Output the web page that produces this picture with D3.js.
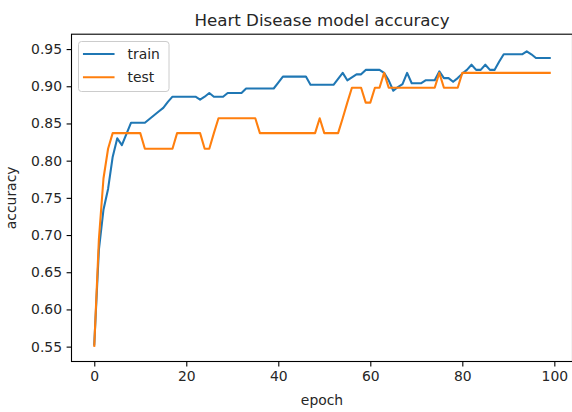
<!DOCTYPE html>
<html>
<head>
<meta charset="utf-8">
<script src="https://cdn.jsdelivr.net/npm/d3@7"></script>
<style>
  body { margin: 0; background: #fff; }
  svg text { font-family: "DejaVu Sans", sans-serif; fill: #262626; }
</style>
</head>
<body>
<div id="svg-area"></div>
<script>
var svgWidth = 572;
var svgHeight = 412;

// accuracy per epoch
var trainAcc = [0.553, 0.680, 0.734, 0.762, 0.805, 0.830, 0.821, 0.836, 0.851, 0.851,
  0.851, 0.851, 0.856, 0.861, 0.866, 0.871, 0.879, 0.886, 0.886, 0.886,
  0.886, 0.886, 0.886, 0.882, 0.886, 0.891, 0.886, 0.886, 0.886, 0.891,
  0.891, 0.891, 0.891, 0.897, 0.897, 0.897, 0.897, 0.897, 0.897, 0.897,
  0.905, 0.913, 0.913, 0.913, 0.913, 0.913, 0.913, 0.902, 0.902, 0.902,
  0.902, 0.902, 0.902, 0.910, 0.918, 0.908, 0.912, 0.916, 0.916, 0.922,
  0.922, 0.922, 0.922, 0.918, 0.908, 0.894, 0.899, 0.903, 0.918, 0.904,
  0.904, 0.904, 0.908, 0.908, 0.908, 0.920, 0.911, 0.911, 0.906, 0.911,
  0.917, 0.922, 0.929, 0.922, 0.922, 0.929, 0.922, 0.922, 0.933, 0.943,
  0.943, 0.943, 0.943, 0.943, 0.947, 0.943, 0.938, 0.938, 0.938, 0.938];

var testAcc = [0.551, 0.694, 0.776, 0.816, 0.837, 0.837, 0.837, 0.837, 0.837, 0.837,
  0.837, 0.816, 0.816, 0.816, 0.816, 0.816, 0.816, 0.816, 0.837, 0.837,
  0.837, 0.837, 0.837, 0.837, 0.816, 0.816, 0.837, 0.857, 0.857, 0.857,
  0.857, 0.857, 0.857, 0.857, 0.857, 0.857, 0.837, 0.837, 0.837, 0.837,
  0.837, 0.837, 0.837, 0.837, 0.837, 0.837, 0.837, 0.837, 0.837, 0.857,
  0.837, 0.837, 0.837, 0.837, 0.857, 0.878, 0.898, 0.898, 0.898, 0.878,
  0.878, 0.898, 0.898, 0.918, 0.898, 0.898, 0.898, 0.898, 0.898, 0.898,
  0.898, 0.898, 0.898, 0.898, 0.898, 0.918, 0.898, 0.898, 0.898, 0.898,
  0.918, 0.918, 0.918, 0.918, 0.918, 0.918, 0.918, 0.918, 0.918, 0.918,
  0.918, 0.918, 0.918, 0.918, 0.918, 0.918, 0.918, 0.918, 0.918, 0.918];

var xTicks = [0, 20, 40, 60, 80, 100];
var yTicks = [0.55, 0.60, 0.65, 0.70, 0.75, 0.80, 0.85, 0.90, 0.95];
var seriesNames = ["train", "test"];
var seriesColors = ["#1f77b4", "#ff7f0e"];

var plotLeft = 71.5, plotRight = 572.5, plotTop = 34.2, plotBottom = 361.5;

var svg = d3.select("#svg-area")
  .append("svg")
  .attr("width", svgWidth)
  .attr("height", svgHeight);

var xScale = d3.scaleLinear().domain([-4.95, 103.95]).range([plotLeft, plotRight]);
var yScale = d3.scaleLinear().domain([0.53, 0.97]).range([plotBottom, plotTop]);

// axes
var xAxis = d3.axisBottom(xScale).tickValues(xTicks).tickSize(4.9).tickPadding(4.6).tickSizeOuter(0);
var yAxis = d3.axisLeft(yScale).tickValues(yTicks).tickSize(4.9).tickPadding(4.6)
  .tickFormat(d3.format(".2f")).tickSizeOuter(0);

var gx = svg.append("g").attr("transform", "translate(0," + plotBottom + ")").call(xAxis);
var gy = svg.append("g").attr("transform", "translate(" + plotLeft + ",0)").call(yAxis);
[gx, gy].forEach(function(g) {
  g.select(".domain").remove();
  g.selectAll(".tick line").attr("stroke", "#000").attr("stroke-width", 1.1);
  g.selectAll(".tick text").style("font-size", "13.9px").attr("fill", "#262626");
});

// lines
var lineGenerator = d3.line()
  .x(function(d, i) { return xScale(i); })
  .y(function(d) { return yScale(d); });

[trainAcc, testAcc].forEach(function(series, k) {
  svg.append("path")
    .datum(series)
    .attr("d", lineGenerator)
    .attr("fill", "none")
    .attr("stroke", seriesColors[k])
    .attr("stroke-width", 2.08)
    .attr("stroke-linejoin", "round")
    .attr("stroke-linecap", "square");
});

// frame
svg.append("rect")
  .attr("x", plotLeft).attr("y", plotTop)
  .attr("width", plotRight - plotLeft).attr("height", plotBottom - plotTop)
  .attr("fill", "none").attr("stroke", "#000").attr("stroke-width", 1.1);

// title and labels
svg.append("text")
  .attr("x", (plotLeft + plotRight) / 2).attr("y", 26)
  .attr("text-anchor", "middle").style("font-size", "16.7px")
  .text("Heart Disease model accuracy");

svg.append("text")
  .attr("x", (plotLeft + plotRight) / 2).attr("y", 405)
  .attr("text-anchor", "middle").style("font-size", "13.9px")
  .text("epoch");

svg.append("text")
  .attr("transform", "translate(16," + (plotTop + plotBottom) / 2 + ") rotate(-90)")
  .attr("text-anchor", "middle").style("font-size", "13.9px")
  .text("accuracy");

// legend
var legend = svg.append("g");
legend.append("rect")
  .attr("x", 78.5).attr("y", 41.5).attr("width", 90.5).attr("height", 50)
  .attr("rx", 3).attr("fill", "#fff").attr("fill-opacity", 0.8)
  .attr("stroke", "#cccccc").attr("stroke-width", 1);

seriesNames.forEach(function(name, k) {
  var ly = 54 + k * 23.3;
  legend.append("line")
    .attr("x1", 84).attr("x2", 113.5).attr("y1", ly).attr("y2", ly)
    .attr("stroke", seriesColors[k]).attr("stroke-width", 2.08)
    .attr("stroke-linecap", "square");
  legend.append("text")
    .attr("x", 127.5).attr("y", ly + 5)
    .style("font-size", "13.9px")
    .text(name);
});
</script>
</body>
</html>
